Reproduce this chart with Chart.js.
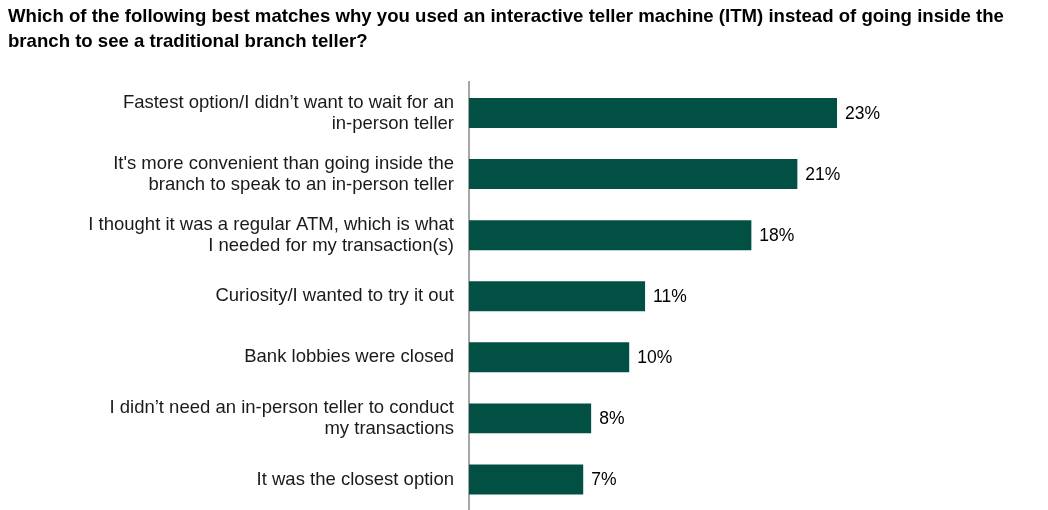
<!DOCTYPE html>
<html>
<head>
<meta charset="utf-8">
<script src="https://cdn.jsdelivr.net/npm/chart.js@4"></script>
<style>
  body { margin: 0; background: #ffffff; }
  #wrap { width: 1048px; height: 510px; }
</style>
</head>
<body>
<div id="wrap"><canvas id="chart" width="1048" height="510"></canvas></div>
<script>
// Données
const categories = [
  ['Fastest option/I didn\u2019t want to wait for an', 'in-person teller'],
  ['It\'s more convenient than going inside the', 'branch to speak to an in-person teller'],
  ['I thought it was a regular ATM, which is what', 'I needed for my transaction(s)'],
  'Curiosity/I wanted to try it out',
  'Bank lobbies were closed',
  ['I didn\u2019t need an in-person teller to conduct', 'my transactions'],
  'It was the closest option'
];
const shares = [23.2, 20.7, 17.8, 11.1, 10.1, 7.7, 7.2];
const shareLabels = ['23%', '21%', '18%', '11%', '10%', '8%', '7%'];

const titleLines = [
  'Which of the following best matches why you used an interactive teller machine (ITM) instead of going inside the',
  'branch to see a traditional branch teller?'
];

const FONT = '"Liberation Sans", Arial, sans-serif';

// Étiquettes de valeur en bout de barre
const valueLabels = {
  id: 'valueLabels',
  afterDatasetsDraw(chart) {
    const { ctx } = chart;
    const meta = chart.getDatasetMeta(0);
    ctx.save();
    ctx.font = '17.5px ' + FONT;
    ctx.fillStyle = '#000000';
    ctx.textAlign = 'left';
    ctx.textBaseline = 'middle';
    meta.data.forEach((bar, i) => {
      ctx.fillText(shareLabels[i], bar.x + 8, bar.y + 1);
    });
    ctx.restore();
  }
};

new Chart(document.getElementById('chart').getContext('2d'), {
  type: 'bar',
  data: {
    labels: categories,
    datasets: [{
      data: shares,
      backgroundColor: '#024f43',
      borderWidth: 0,
      categoryPercentage: 1,
      barPercentage: 0.49
    }]
  },
  options: {
    indexAxis: 'y',
    responsive: false,
    animation: false,
    layout: { padding: { top: 5, right: 0, bottom: 0, left: 8 } },
    plugins: {
      legend: { display: false },
      tooltip: { enabled: false },
      title: {
        display: true,
        text: titleLines,
        align: 'start',
        color: '#000000',
        font: { family: FONT, size: 18.6, weight: 'bold', lineHeight: 1.33 },
        padding: { top: 0, bottom: 28 }
      }
    },
    scales: {
      x: {
        display: false,
        min: 0,
        max: 36.5
      },
      y: {
        afterFit(scale) {
          // largeur fixe de la colonne des libellés, pas de marge verticale
          scale.width = 461;
          scale.paddingTop = 0;
          scale.paddingBottom = 0;
        },
        grid: { display: false, drawTicks: false },
        border: { display: true, color: '#a6a6a6', width: 2 },
        ticks: {
          color: '#1a1a1a',
          padding: 15,
          font: { family: FONT, size: 18.5, lineHeight: 1.13 }
        }
      }
    }
  },
  plugins: [valueLabels]
});
</script>
</body>
</html>
